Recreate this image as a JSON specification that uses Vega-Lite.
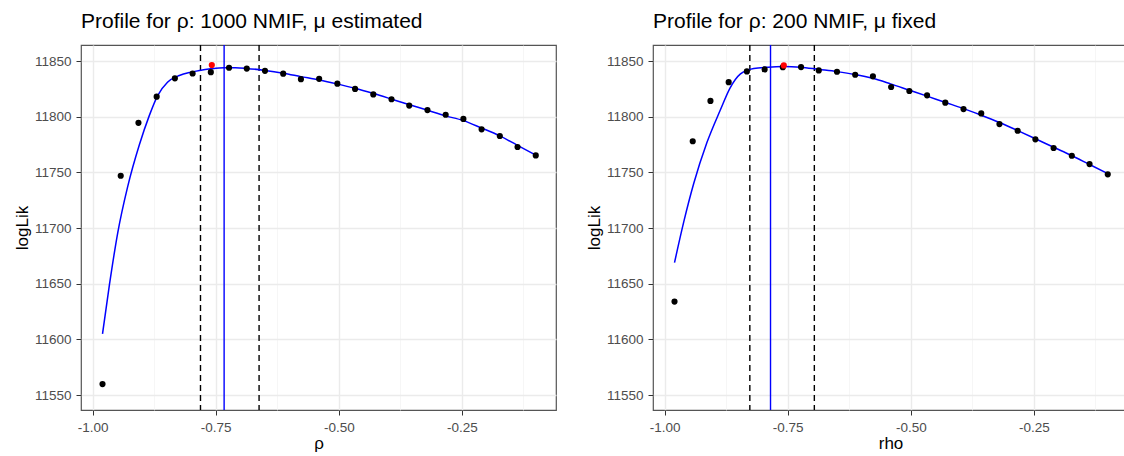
{
  "$schema": "https://vega.github.io/schema/vega-lite/v6.json",
  "padding": {"left": 12, "top": 10, "right": 0, "bottom": 0},
  "spacing": 27,
  "background": "white",
  "config": {
    "font": "Liberation Sans",
    "view": {"stroke": "#555555", "strokeWidth": 1.2},
    "axis": {
      "domain": false,
      "labelColor": "#4d4d4d",
      "labelFontSize": 13.5,
      "labelFont": "Liberation Sans",
      "titleFont": "Liberation Sans",
      "titleFontSize": 17,
      "titleFontWeight": "normal",
      "titleColor": "black",
      "tickColor": "#333333",
      "tickSize": 5,
      "tickWidth": 1,
      "gridColor": "#ebebeb"
    },
    "title": {"font": "Liberation Sans", "fontSize": 21, "fontWeight": "normal", "color": "black", "anchor": "start", "frame": "group", "offset": 12}
  },
  "datasets": {
    "pts1": [
      {"rho": -0.980, "logLik": 11560, "kind": "profile"},
      {"rho": -0.943, "logLik": 11747, "kind": "profile"},
      {"rho": -0.907, "logLik": 11794.5, "kind": "profile"},
      {"rho": -0.870, "logLik": 11818, "kind": "profile"},
      {"rho": -0.833, "logLik": 11834.5, "kind": "profile"},
      {"rho": -0.797, "logLik": 11838.8, "kind": "profile"},
      {"rho": -0.760, "logLik": 11840, "kind": "profile"},
      {"rho": -0.723, "logLik": 11844, "kind": "profile"},
      {"rho": -0.687, "logLik": 11843.2, "kind": "profile"},
      {"rho": -0.650, "logLik": 11841.2, "kind": "profile"},
      {"rho": -0.613, "logLik": 11838.7, "kind": "profile"},
      {"rho": -0.577, "logLik": 11833.7, "kind": "profile"},
      {"rho": -0.540, "logLik": 11834, "kind": "profile"},
      {"rho": -0.503, "logLik": 11829.7, "kind": "profile"},
      {"rho": -0.467, "logLik": 11825, "kind": "profile"},
      {"rho": -0.430, "logLik": 11820, "kind": "profile"},
      {"rho": -0.393, "logLik": 11815.7, "kind": "profile"},
      {"rho": -0.357, "logLik": 11810, "kind": "profile"},
      {"rho": -0.320, "logLik": 11806, "kind": "profile"},
      {"rho": -0.283, "logLik": 11801.8, "kind": "profile"},
      {"rho": -0.247, "logLik": 11798, "kind": "profile"},
      {"rho": -0.210, "logLik": 11788.7, "kind": "profile"},
      {"rho": -0.173, "logLik": 11782.7, "kind": "profile"},
      {"rho": -0.137, "logLik": 11772.8, "kind": "profile"},
      {"rho": -0.100, "logLik": 11765.3, "kind": "profile"},
      {"rho": -0.758, "logLik": 11846.4, "kind": "best"}
    ],
    "curve1": [
      {"rho": -0.980, "logLik": 11605},
      {"rho": -0.966, "logLik": 11649},
      {"rho": -0.949, "logLik": 11696},
      {"rho": -0.929, "logLik": 11737},
      {"rho": -0.905, "logLik": 11775},
      {"rho": -0.885, "logLik": 11801},
      {"rho": -0.868, "logLik": 11819},
      {"rho": -0.848, "logLik": 11831},
      {"rho": -0.824, "logLik": 11837},
      {"rho": -0.800, "logLik": 11840},
      {"rho": -0.783, "logLik": 11841.5},
      {"rho": -0.760, "logLik": 11843},
      {"rho": -0.733, "logLik": 11844},
      {"rho": -0.710, "logLik": 11844},
      {"rho": -0.687, "logLik": 11843.4},
      {"rho": -0.650, "logLik": 11841.5},
      {"rho": -0.613, "logLik": 11839},
      {"rho": -0.577, "logLik": 11836},
      {"rho": -0.540, "logLik": 11833},
      {"rho": -0.504, "logLik": 11829.5},
      {"rho": -0.467, "logLik": 11825.5},
      {"rho": -0.431, "logLik": 11821},
      {"rho": -0.394, "logLik": 11816},
      {"rho": -0.358, "logLik": 11811},
      {"rho": -0.321, "logLik": 11806},
      {"rho": -0.285, "logLik": 11801},
      {"rho": -0.247, "logLik": 11796.5},
      {"rho": -0.211, "logLik": 11790},
      {"rho": -0.174, "logLik": 11783},
      {"rho": -0.138, "logLik": 11774.5},
      {"rho": -0.100, "logLik": 11765.5}
    ],
    "vlines1": [
      {"rho": -0.781, "kind": "ci"},
      {"rho": -0.662, "kind": "ci"},
      {"rho": -0.733, "kind": "mle"}
    ],
    "pts2": [
      {"rho": -0.980, "logLik": 11634, "kind": "profile"},
      {"rho": -0.943, "logLik": 11778, "kind": "profile"},
      {"rho": -0.907, "logLik": 11814.2, "kind": "profile"},
      {"rho": -0.870, "logLik": 11831, "kind": "profile"},
      {"rho": -0.833, "logLik": 11840.7, "kind": "profile"},
      {"rho": -0.797, "logLik": 11842.5, "kind": "profile"},
      {"rho": -0.760, "logLik": 11844.5, "kind": "profile"},
      {"rho": -0.723, "logLik": 11844.6, "kind": "profile"},
      {"rho": -0.687, "logLik": 11841.6, "kind": "profile"},
      {"rho": -0.650, "logLik": 11840.4, "kind": "profile"},
      {"rho": -0.613, "logLik": 11837.7, "kind": "profile"},
      {"rho": -0.577, "logLik": 11836.3, "kind": "profile"},
      {"rho": -0.540, "logLik": 11826.7, "kind": "profile"},
      {"rho": -0.503, "logLik": 11823.1, "kind": "profile"},
      {"rho": -0.467, "logLik": 11819.2, "kind": "profile"},
      {"rho": -0.430, "logLik": 11812.6, "kind": "profile"},
      {"rho": -0.393, "logLik": 11806.9, "kind": "profile"},
      {"rho": -0.357, "logLik": 11803, "kind": "profile"},
      {"rho": -0.320, "logLik": 11793.4, "kind": "profile"},
      {"rho": -0.283, "logLik": 11787.4, "kind": "profile"},
      {"rho": -0.247, "logLik": 11779.7, "kind": "profile"},
      {"rho": -0.210, "logLik": 11771.9, "kind": "profile"},
      {"rho": -0.173, "logLik": 11765, "kind": "profile"},
      {"rho": -0.137, "logLik": 11757.5, "kind": "profile"},
      {"rho": -0.100, "logLik": 11748.3, "kind": "profile"},
      {"rho": -0.758, "logLik": 11846.1, "kind": "best"}
    ],
    "curve2": [
      {"rho": -0.980, "logLik": 11669},
      {"rho": -0.961, "logLik": 11706},
      {"rho": -0.941, "logLik": 11740},
      {"rho": -0.914, "logLik": 11777},
      {"rho": -0.887, "logLik": 11806},
      {"rho": -0.867, "logLik": 11826},
      {"rho": -0.846, "logLik": 11838.5},
      {"rho": -0.819, "logLik": 11843.4},
      {"rho": -0.790, "logLik": 11844.5},
      {"rho": -0.760, "logLik": 11845},
      {"rho": -0.724, "logLik": 11844.5},
      {"rho": -0.687, "logLik": 11842.5},
      {"rho": -0.650, "logLik": 11840.5},
      {"rho": -0.614, "logLik": 11838},
      {"rho": -0.577, "logLik": 11834.5},
      {"rho": -0.541, "logLik": 11829.5},
      {"rho": -0.504, "logLik": 11824},
      {"rho": -0.467, "logLik": 11818.5},
      {"rho": -0.431, "logLik": 11813},
      {"rho": -0.394, "logLik": 11807.5},
      {"rho": -0.358, "logLik": 11801.5},
      {"rho": -0.321, "logLik": 11795},
      {"rho": -0.285, "logLik": 11788},
      {"rho": -0.248, "logLik": 11780.5},
      {"rho": -0.211, "logLik": 11772.8},
      {"rho": -0.174, "logLik": 11765.2},
      {"rho": -0.138, "logLik": 11757.3},
      {"rho": -0.100, "logLik": 11749}
    ],
    "vlines2": [
      {"rho": -0.827, "kind": "ci"},
      {"rho": -0.696, "kind": "ci"},
      {"rho": -0.785, "kind": "mle"}
    ]
  },
  "hconcat": [
    {
      "width": 475,
      "height": 365,
      "title": {"text": "Profile for ρ: 1000 NMIF, μ estimated"},
      "layer": [
        {
          "data": {"name": "vlines1"},
          "transform": [{"filter": "datum.kind == 'ci'"}],
          "mark": {"type": "rule", "color": "black", "strokeDash": [6, 4], "strokeWidth": 1.4},
          "encoding": {
            "x": {"field": "rho", "type": "quantitative", "scale": {"domain": [-1.0237, -0.0589], "nice": false, "zero": false},
              "axis": {
                "title": "ρ",
                "values": [-1, -0.875, -0.75, -0.625, -0.5, -0.375, -0.25, -0.125],
                "labelExpr": "abs(datum.value*4 - round(datum.value*4)) > 0.01 ? '' : replace(format(datum.value, '.2f'), '\u2212', '-')",
                "tickOpacity": {"condition": {"test": "abs(datum.value*4 - round(datum.value*4)) > 0.01", "value": 0}, "value": 1},
                "gridWidth": {"condition": {"test": "abs(datum.value*4 - round(datum.value*4)) > 0.01", "value": 0.7}, "value": 1.4},
                "gridColor": {"condition": {"test": "abs(datum.value*4 - round(datum.value*4)) > 0.01", "value": "#f2f2f2"}, "value": "#ebebeb"},
                "labelPadding": 5,
                "titlePadding": 2
              }
            }
          }
        },
        {
          "data": {"name": "vlines1"},
          "transform": [{"filter": "datum.kind == 'mle'"}],
          "mark": {"type": "rule", "color": "#0000ff", "strokeWidth": 1.4},
          "encoding": {"x": {"field": "rho", "type": "quantitative"}}
        },
        {
          "data": {"name": "curve1"},
          "mark": {"type": "line", "color": "#0000ff", "strokeWidth": 1.5, "interpolate": "monotone"},
          "encoding": {
            "x": {"field": "rho", "type": "quantitative"},
            "y": {"field": "logLik", "type": "quantitative"}
          }
        },
        {
          "data": {"name": "pts1"},
          "mark": {"type": "circle", "size": 38, "opacity": 1},
          "encoding": {
            "x": {"field": "rho", "type": "quantitative"},
            "y": {"field": "logLik", "type": "quantitative", "scale": {"domain": [11536.7, 11864.4], "nice": false, "zero": false},
              "axis": {
                "title": "logLik",
                "values": [11550, 11575, 11600, 11625, 11650, 11675, 11700, 11725, 11750, 11775, 11800, 11825, 11850],
                "labelExpr": "datum.value % 50 != 0 ? '' : format(datum.value, 'd')",
                "tickOpacity": {"condition": {"test": "datum.value % 50 != 0", "value": 0}, "value": 1},
                "gridWidth": {"condition": {"test": "datum.value % 50 != 0", "value": 0.7}, "value": 1.4},
                "gridColor": {"condition": {"test": "datum.value % 50 != 0", "value": "#f2f2f2"}, "value": "#ebebeb"},
                "labelPadding": 5,
                "titlePadding": 3
              }
            },
            "color": {"field": "kind", "type": "nominal", "scale": {"domain": ["profile", "best"], "range": ["black", "red"]}, "legend": null}
          }
        }
      ]
    },
    {
      "width": 475,
      "height": 365,
      "title": {"text": "Profile for ρ: 200 NMIF, μ fixed"},
      "layer": [
        {
          "data": {"name": "vlines2"},
          "transform": [{"filter": "datum.kind == 'ci'"}],
          "mark": {"type": "rule", "color": "black", "strokeDash": [6, 4], "strokeWidth": 1.4},
          "encoding": {
            "x": {"field": "rho", "type": "quantitative", "scale": {"domain": [-1.0237, -0.0589], "nice": false, "zero": false},
              "axis": {
                "title": "rho",
                "values": [-1, -0.875, -0.75, -0.625, -0.5, -0.375, -0.25, -0.125],
                "labelExpr": "abs(datum.value*4 - round(datum.value*4)) > 0.01 ? '' : replace(format(datum.value, '.2f'), '\u2212', '-')",
                "tickOpacity": {"condition": {"test": "abs(datum.value*4 - round(datum.value*4)) > 0.01", "value": 0}, "value": 1},
                "gridWidth": {"condition": {"test": "abs(datum.value*4 - round(datum.value*4)) > 0.01", "value": 0.7}, "value": 1.4},
                "gridColor": {"condition": {"test": "abs(datum.value*4 - round(datum.value*4)) > 0.01", "value": "#f2f2f2"}, "value": "#ebebeb"},
                "labelPadding": 5,
                "titlePadding": 2
              }
            }
          }
        },
        {
          "data": {"name": "vlines2"},
          "transform": [{"filter": "datum.kind == 'mle'"}],
          "mark": {"type": "rule", "color": "#0000ff", "strokeWidth": 1.4},
          "encoding": {"x": {"field": "rho", "type": "quantitative"}}
        },
        {
          "data": {"name": "curve2"},
          "mark": {"type": "line", "color": "#0000ff", "strokeWidth": 1.5, "interpolate": "monotone"},
          "encoding": {
            "x": {"field": "rho", "type": "quantitative"},
            "y": {"field": "logLik", "type": "quantitative"}
          }
        },
        {
          "data": {"name": "pts2"},
          "mark": {"type": "circle", "size": 38, "opacity": 1},
          "encoding": {
            "x": {"field": "rho", "type": "quantitative"},
            "y": {"field": "logLik", "type": "quantitative", "scale": {"domain": [11536.7, 11864.4], "nice": false, "zero": false},
              "axis": {
                "title": "logLik",
                "values": [11550, 11575, 11600, 11625, 11650, 11675, 11700, 11725, 11750, 11775, 11800, 11825, 11850],
                "labelExpr": "datum.value % 50 != 0 ? '' : format(datum.value, 'd')",
                "tickOpacity": {"condition": {"test": "datum.value % 50 != 0", "value": 0}, "value": 1},
                "gridWidth": {"condition": {"test": "datum.value % 50 != 0", "value": 0.7}, "value": 1.4},
                "gridColor": {"condition": {"test": "datum.value % 50 != 0", "value": "#f2f2f2"}, "value": "#ebebeb"},
                "labelPadding": 5,
                "titlePadding": 3
              }
            },
            "color": {"field": "kind", "type": "nominal", "scale": {"domain": ["profile", "best"], "range": ["black", "red"]}, "legend": null}
          }
        }
      ]
    }
  ]
}
